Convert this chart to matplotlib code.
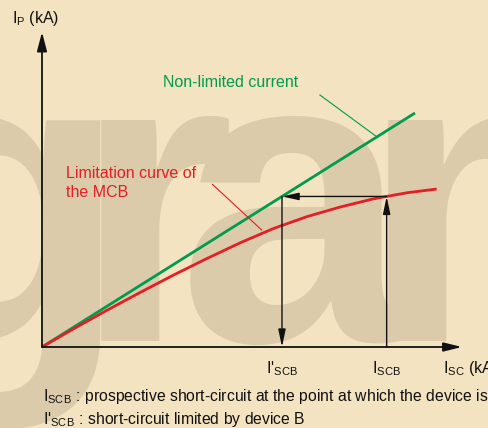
import numpy as np
import matplotlib
matplotlib.use("Agg")
import matplotlib.pyplot as plt

plt.rcParams['font.family'] = ['Liberation Sans', 'DejaVu Sans']
plt.rcParams['mathtext.fontset'] = 'custom'
plt.rcParams['mathtext.rm'] = 'Liberation Sans'
plt.rcParams['mathtext.it'] = 'Liberation Sans:italic'

# Data (kA, arbitrary scale)
green_x = [0, 10]
green_y = [0, 10]
red_x = [0, 0.84, 1.73, 2.63, 3.52, 4.42, 5.31, 6.20, 7.10, 7.99, 8.88, 9.78, 10.58]
red_y = [0, 0.77, 1.56, 2.33, 3.07, 3.78, 4.45, 5.06, 5.57, 5.98, 6.33, 6.59, 6.75]
isc_b = 9.24
ip_b = np.interp(isc_b, red_x, red_y)
isc_b_lim = ip_b  # where the non-limited line reaches the same peak

GREEN = '#009b4e'
RED = '#e31e24'
BG = '#f3e3c0'
WM = '#dccbaa'
INK = '#111111'

fig = plt.figure(figsize=(4.89, 4.28), dpi=100, facecolor=BG)
ax = fig.add_axes([0, 0, 1, 1])
ax.set_facecolor(BG)
ax.set_xlim(-42 / 37.3, 447 / 37.3)
ax.set_ylim(-81 / 23.4, 347 / 23.4)
ax.axis('off')

# watermark letters
W, H = 489.0, 428.0
for ch, px in [('g', -126), ('r', 73), ('a', 178), ('m', 360)]:
    ax.text(px / W, 1 - 341 / H, ch, transform=ax.transAxes, fontsize=300,
            fontweight='bold', color=WM, ha='left', va='baseline', zorder=0)

def arrow(x0, y0, x1, y1, lw, hl, hw):
    ax.annotate('', xy=(x1, y1), xytext=(x0, y0),
                arrowprops=dict(arrowstyle=f'-|>,head_length={hl},head_width={hw}',
                                color=INK, lw=lw, shrinkA=0, shrinkB=0,
                                mutation_scale=10), zorder=4)

# axes with arrows
arrow(0, 0, 0, 13.46, 1.3, 1.15, 0.3)
arrow(0, 0, 11.26, 0, 1.3, 1.1, 0.27)

# curves
ax.plot(green_x, green_y, color=GREEN, lw=2.0, zorder=3, solid_capstyle='butt')
ax.plot(red_x, red_y, color=RED, lw=2.0, zorder=3, solid_capstyle='butt',
        solid_joinstyle='round')

# construction arrows
arrow(isc_b, 0, isc_b, ip_b, 1.0, 1.05, 0.22)
arrow(isc_b, ip_b, isc_b_lim, ip_b, 1.0, 1.0, 0.22)
arrow(isc_b_lim, ip_b, isc_b_lim, 0, 1.0, 1.05, 0.22)

# leader lines
ax.plot([7.45, 8.97], [10.77, 8.99], color=GREEN, lw=0.8, zorder=3)
ax.plot([4.57, 5.89], [6.95, 5.0], color=RED, lw=0.8, zorder=3)

fs = 11.5
ax.text(3.24, 11.12, 'Non-limited current', color=GREEN, fontsize=fs, va='baseline')
ax.text(0.64, 7.24, 'Limitation curve of', color=RED, fontsize=fs, va='baseline')
ax.text(0.64, 6.42, 'the MCB', color=RED, fontsize=fs, va='baseline')

sub_b = r'$_\mathregular{SC}{}_\mathregular{B}$'
ax.text(-0.80, 13.85, r'I$_\mathregular{P}$ (kA)', color=INK, fontsize=fs, va='baseline')
ax.text(isc_b_lim, -1.11, "I'" + sub_b, color=INK, fontsize=fs,
        va='baseline', ha='center')
ax.text(isc_b, -1.11, 'I' + sub_b, color=INK, fontsize=fs,
        va='baseline', ha='center')
ax.text(10.75, -1.11, r'I$_\mathregular{SC}$ (kA)', color=INK, fontsize=fs, va='baseline')

ax.text(0.03, -2.29, 'I' + sub_b + ' : prospective short-circuit at the point at which the device is',
        color=INK, fontsize=11.3, va='baseline')
ax.text(0.03, -3.29, "I'" + sub_b + ' : short-circuit limited by device B',
        color=INK, fontsize=11.3, va='baseline')

fig.savefig('out.png', dpi=100, facecolor=BG)
